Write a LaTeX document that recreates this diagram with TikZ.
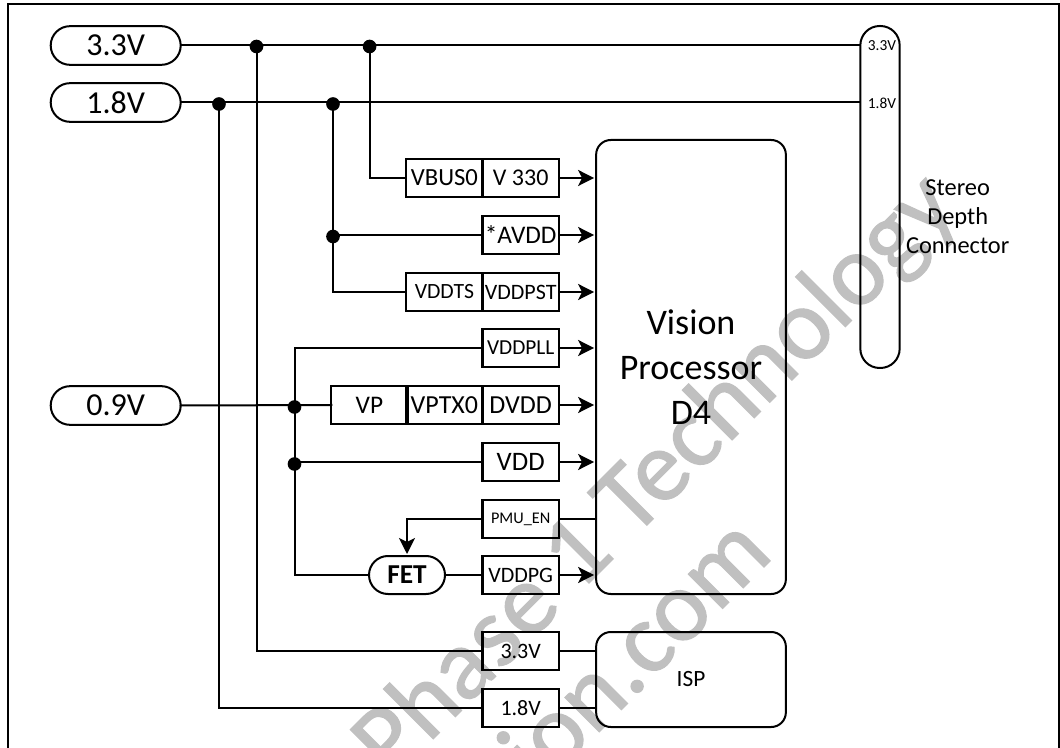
\documentclass[tikz,border=0pt]{standalone}
\usepackage{fontspec}
\setmainfont{Carlito}
\newfontfamily\wmfont[FakeBold=1.2]{Carlito}
\usetikzlibrary{shapes.misc,arrows.meta}
\definecolor{wm}{HTML}{C0C0C0}
\tikzset{
  wire/.style={line width=1.5pt,line cap=rect,black},
  feed/.style={wire,-{Stealth[length=12pt,width=12pt,inset=3pt]},shorten >=1.5pt},
  pill/.style={draw,line width=1.5pt,rounded rectangle,minimum width=97.5pt,minimum height=29pt,inner sep=0pt,outer sep=0pt,font=\fontsize{24}{27}\selectfont},
  fetpill/.style={pill,minimum width=57pt,minimum height=28.5pt,font=\fontsize{20.5}{22}\selectfont\bfseries},
  cell/.style={draw,line width=1.75pt,minimum height=28.5pt,inner sep=0pt,outer sep=0pt,font=\fontsize{18}{20}\selectfont},
  cellA/.style={cell,minimum width=57.2pt},
  cellB/.style={cell,minimum width=57.4pt},
  chip/.style={draw,line width=1.5pt,rounded corners=11pt,minimum width=142.3pt,inner sep=0pt,outer sep=0pt,align=center},
  dot/.style={circle,fill=black,minimum size=10.25pt,inner sep=0pt,outer sep=0pt},
  wmark/.style={font=\wmfont\fontsize{76}{80}\selectfont,text=wm,inner sep=0pt,rotate=45},
  outline/.style={line width=1.75pt,black},
}
\begin{document}
\begin{tikzpicture}[x=0.75pt,y=-0.75pt]
\useasboundingbox (0,0) rectangle (1060,748);
\begin{scope}
\clip (0,0) rectangle (1060,748);
\node[wmark,anchor=base west] (wma) at (391,781) {Phase 1 Technology};
\node[wmark,anchor=base east] (wmb) at (775,556) {ion.com};
\end{scope}
% frame
\coordinate (fa) at (8,748); \coordinate (fb) at (8,4); \coordinate (fc) at (1059,4); \coordinate (fd) at (1059,748);
\draw[outline] (fa) -- (fb) -- (fc) -- (fd);
% rails
\node[pill] (p33) at (115.7,45.5) {3.3V};
\node[pill] (p18) at (115.7,102.5) {1.8V};
\node[pill] (p09) at (115.7,405.5) {0.9V};
% connector
\node[draw,line width=1.5pt,rounded corners=14.5pt,minimum width=29.5pt,minimum height=256.5pt,inner sep=0pt,outer sep=0pt] (conn) at (880,197) {};
\node[font=\fontsize{11.5}{14}\selectfont,inner sep=0pt] (c33) at (882,46) {3.3V};
\node[font=\fontsize{11.5}{14}\selectfont,inner sep=0pt] (c18) at (882,103) {1.8V};
\node[align=center,font=\fontsize{18.3}{21.75}\selectfont,inner sep=0pt] (stereo) at (957.7,217) {Stereo\\Depth\\Connector};
% chips
\node[chip,minimum height=340.5pt,font=\fontsize{27}{33.75}\selectfont] (vision) at (691,367) {Vision\\Processor\\D4};
\node[chip,minimum height=71.25pt,font=\fontsize{17.5}{20}\selectfont] (isp) at (691,679.5) {ISP};
% cells
\node[cellA,font=\fontsize{18.5}{20}\selectfont] (vbus) at (444.4,178) {VBUS0};
\node[cellB] (v330) at (520.7,178) {V 330};
\node[cellB,font=\fontsize{19}{20}\selectfont] (avdd) at (520.7,235) {*AVDD};
\node[cellA,font=\fontsize{16.3}{18}\selectfont] (vddts) at (444.4,292) {VDDTS};
\node[cellB,font=\fontsize{16.5}{18}\selectfont] (vddpst) at (520.7,292) {VDDPST};
\node[cellB,font=\fontsize{16}{18}\selectfont] (vddpll) at (520.7,348) {VDDPLL};
\node[cellA,font=\fontsize{19}{20}\selectfont] (vp) at (369.4,405) {VP};
\node[cellA,font=\fontsize{19.5}{20}\selectfont] (vptx) at (444.4,405) {VPTX0};
\node[cellB,font=\fontsize{19.5}{20}\selectfont] (dvdd) at (520.7,405) {DVDD};
\node[cellB,font=\fontsize{20}{22}\selectfont] (vdd) at (520.7,462) {VDD};
\node[cellB,font=\fontsize{12.2}{14}\selectfont] (pmu) at (520.7,519) {PMU\_EN};
\node[cellB,font=\fontsize{16.5}{20}\selectfont] (vddpg) at (520.7,575) {VDDPG};
\node[fetpill] (fet) at (407,575) {FET};
\node[cellB,font=\fontsize{16.5}{20}\selectfont] (b33) at (520.7,651) {3.3V};
\node[cellB,font=\fontsize{16.5}{20}\selectfont] (b18) at (520.7,708) {1.8V};
% junctions
\node[dot] (ja) at (256.5,46.5) {};
\node[dot] (jb) at (369.6,46.5) {};
\node[dot] (jc) at (219,104) {};
\node[dot] (jd) at (333,104) {};
\node[dot] (je) at (333,236.5) {};
\node[dot] (jf) at (294.5,407) {};
\node[dot] (jg) at (294.5,464) {};
% rails
\draw[wire] (p33.east) -- (conn.west |- p33.east);
\draw[wire] (p18.east) -- (conn.west |- p18.east);
\draw[wire] (p09.east) -- (vp.west);
\draw[wire] (ja) |- (b33.west);
\draw[wire] (jc) |- (b18.west);
\draw[wire] (jb) |- (vbus.west);
\draw[wire] (jd) -- (je);
\draw[wire] (je) |- (vddts.west);
\draw[wire] (je.center |- avdd.west) -- (avdd.west);
\draw[wire] (jf) |- (vddpll.west);
\draw[wire] (jf) -- (jg);
\draw[wire] (jg.center |- vdd.west) -- (vdd.west);
\draw[wire] (jg) |- (fet.west);
\draw[wire] (fet.east) -- (vddpg.west);
% to chips
\foreach \c in {v330,avdd,vddpst,vddpll,dvdd,vdd,vddpg}{
  \draw[feed] (\c.east) -- (vision.west |- \c.east);
}
\draw[wire] (pmu.east) -- (vision.west |- pmu.east);
\draw[feed] (pmu.west) -| (fet.north);
\draw[wire] (b33.east) -- (isp.west |- b33.east);
\draw[wire] (b18.east) -- (isp.west |- b18.east);
\end{tikzpicture}
\end{document}
